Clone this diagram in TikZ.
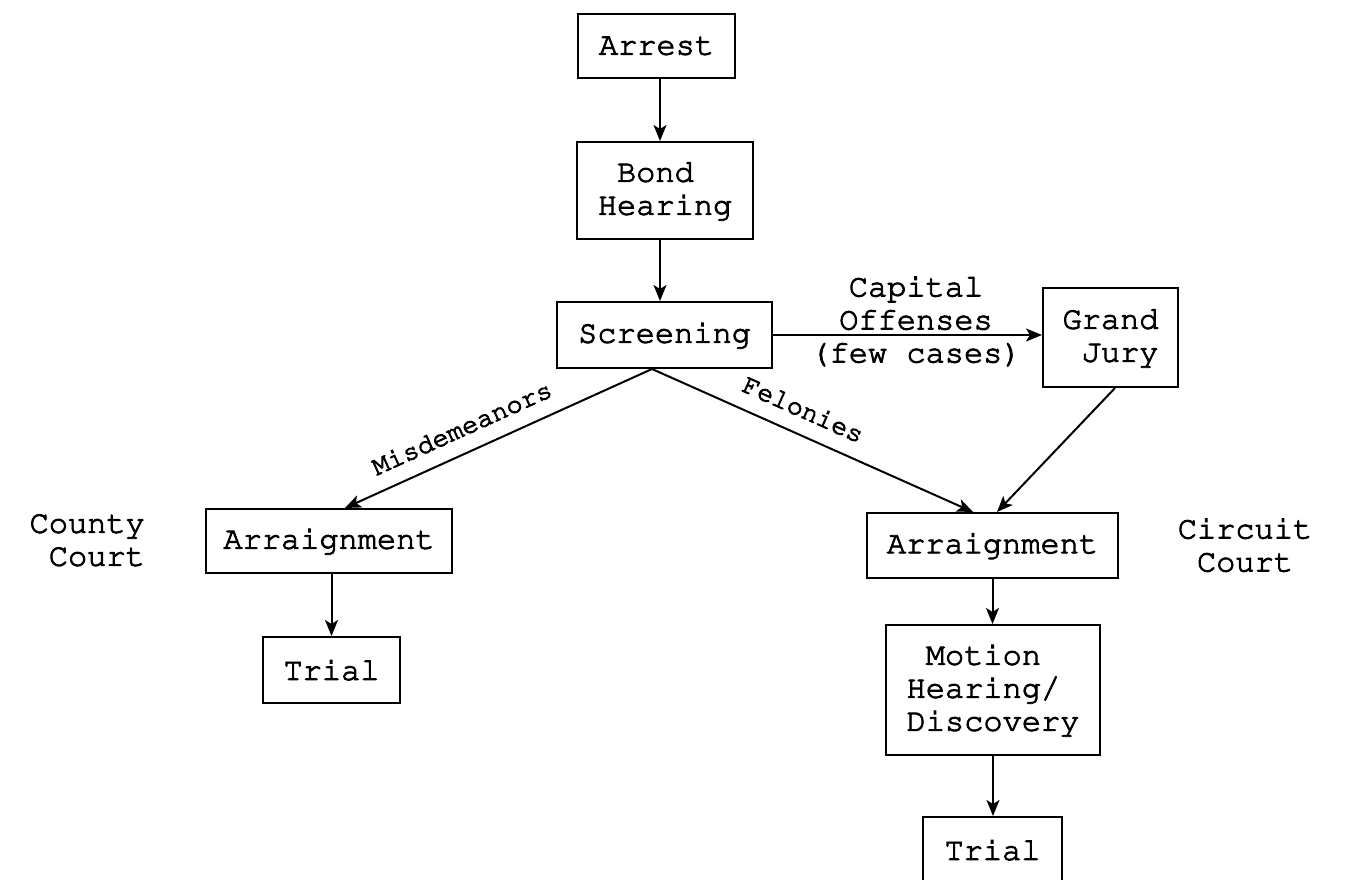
\documentclass[tikz,border=0pt]{standalone}
\usepackage[T1]{fontenc}
\renewcommand{\ttdefault}{pcr}
\usetikzlibrary{arrows.meta}
% typewriter text with a slightly heavier stroke (fill + stroke rendering)
\newcommand{\inked}{\special{pdf:literal direct 2 Tr 0.9 w}}
\begin{document}
\begin{tikzpicture}[x=1pt,y=-1pt,
  every node/.style={font=\ttfamily\fontsize{32}{33}\selectfont\inked},
  box/.style={draw, line width=2pt, inner sep=0pt},
  flow/.style={line width=2pt, -{Stealth[length=16pt,width=13pt,inset=4pt]}},
  lbl/.style={inner sep=0pt, font=\ttfamily\fontsize{27}{28}\selectfont\inked},
  court/.style={inner sep=0pt}
]
\useasboundingbox (0,0) rectangle (1349,880);
\clip (0,0) rectangle (1349,880);

% main column
\node[box, minimum width=157pt, minimum height=64pt] (arrest) at (656.5,46) {Arrest};
\node[box, minimum width=176pt, minimum height=97pt, align=left] (bond) at (665,190.5) {\hphantom{B}Bond\\Hearing};
\node[box, minimum width=215pt, minimum height=66pt] (screen) at (664.5,335) {Screening};
\node[box, minimum width=135pt, minimum height=99pt, align=right] (grand) at (1110.5,337.5) {Grand\\Jury};

% county court branch
\node[box, minimum width=246pt, minimum height=64pt] (larr) at (329,541) {Arraignment};
\node[box, minimum width=137pt, minimum height=66pt] (ltrial) at (331.5,670) {Trial};

% circuit court branch
\node[box, minimum width=251pt, minimum height=65pt] (rarr) at (992.5,545.5) {Arraignment};
\node[box, minimum width=214pt, minimum height=130pt, align=left] (motion) at (993,690) {\hphantom{H}Motion\\Hearing/\\Discovery};
\node[box, minimum width=139pt, minimum height=66pt] (rtrial) at (992.5,850) {Trial};

% court names
\node[court, align=right, anchor=east] (county) at (145,540) {County\\Court};
\node[court, align=center] (circuit) at (1245,545) {Circuit\\Court};

% connectors
\coordinate (spine) at (660,0);
\coordinate (fork) at ([xshift=-12.5pt]screen.south);

\draw[flow] (arrest.south -| spine) -- (bond.north -| spine);
\draw[flow] (bond.south -| spine) -- (screen.north -| spine);
\draw[flow] (screen.east) -- (screen.east -| grand.west);
\node[court, align=center] (capital) at (916,321) {Capital\\Offenses\\(few cases)};

\draw[flow] (fork) -- node[lbl, sloped, above=15pt, pos=0.586] (misd) {Misdemeanors} ([xshift=16pt]larr.north);
\draw[flow] (fork) -- node[lbl, sloped, above=15pt, pos=0.44] (felo) {Felonies} ([xshift=-19.5pt]rarr.north);
\draw[flow] ([xshift=4.5pt]grand.south) -- ([xshift=4.5pt]rarr.north);

\draw[flow] (larr.south -| ltrial.north) -- (ltrial.north);
\draw[flow] (rarr.south) -- (rarr.south |- motion.north);
\draw[flow] (motion.south) -- (motion.south |- rtrial.north);
\end{tikzpicture}
\end{document}
